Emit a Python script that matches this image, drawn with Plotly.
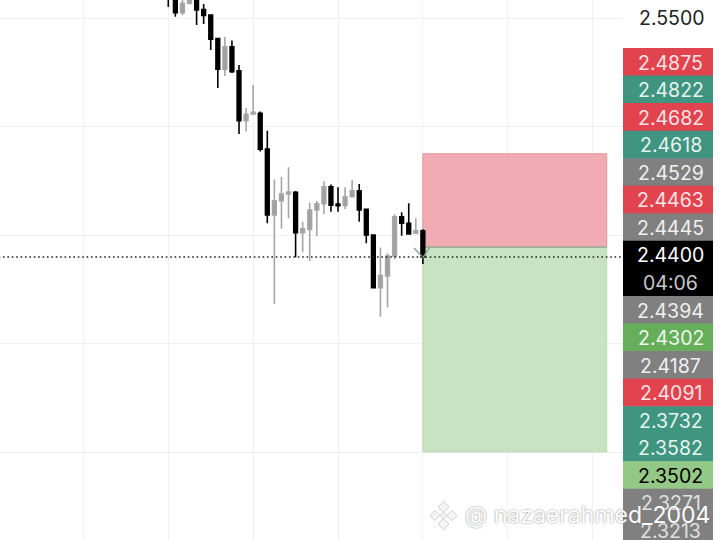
import plotly.graph_objects as go

W, H = 720, 540

# OHLC data (prices)
candle_index = list(range(1, 37))
opens = [2.5601, 2.5525, 2.5567, 2.5597, 2.5539, 2.5514, 2.5405, 2.5264, 2.5368, 2.5257, 2.5027, 2.5058,
         2.5061, 2.4897, 2.4593, 2.4659, 2.4690, 2.4698, 2.4512, 2.4527, 2.4616, 2.4645, 2.4723, 2.4644,
         2.4637, 2.4677, 2.4704, 2.4619, 2.4501, 2.4258, 2.4312, 2.4404, 2.4585, 2.4555, 2.4509, 2.4520]
highs = [2.5620, 2.5588, 2.5611, 2.5611, 2.5565, 2.5514, 2.5408, 2.5414, 2.5396, 2.5284, 2.5086, 2.5192,
         2.5069, 2.4981, 2.4757, 2.4769, 2.4813, 2.4704, 2.4562, 2.4650, 2.4658, 2.4750, 2.4734, 2.4721,
         2.4721, 2.4754, 2.4736, 2.4619, 2.4501, 2.4444, 2.4417, 2.4596, 2.4606, 2.4647, 2.4578, 2.4527]
lows = [2.5506, 2.5514, 2.5565, 2.5468, 2.5472, 2.5353, 2.5178, 2.5233, 2.5247, 2.4966, 2.4977, 2.5054,
        2.4885, 2.4555, 2.4183, 2.4530, 2.4578, 2.4398, 2.4421, 2.4381, 2.4496, 2.4598, 2.4608, 2.4608,
        2.4621, 2.4675, 2.4562, 2.4463, 2.4256, 2.4125, 2.4168, 2.4389, 2.4498, 2.4506, 2.4506, 2.4368]
closes = [2.5525, 2.5568, 2.5597, 2.5537, 2.5512, 2.5403, 2.5264, 2.5368, 2.5253, 2.5027, 2.5057, 2.5066,
          2.4896, 2.4593, 2.4659, 2.4690, 2.4699, 2.4512, 2.4529, 2.4616, 2.4645, 2.4723, 2.4638, 2.4636,
          2.4677, 2.4704, 2.4616, 2.4501, 2.4258, 2.4314, 2.4404, 2.4585, 2.4555, 2.4506, 2.4520, 2.4400]

first_wick_x = [0, 0]
first_wick_y = [2.5620, 2.5551]

# Position tool
pos_start, pos_end = 36, 62
stop_price, entry_price, target_price = 2.4875, 2.4445, 2.3502
last_price = 2.4400
arrow_x = [34.75, 36, 37]
arrow_y = [2.4441, 2.4397, 2.4445]

grid_x = [-12, 0, 12, 24, 36, 48, 60]
grid_y = [2.35, 2.40, 2.45, 2.50, 2.55]
grid_text = ["", "", "", "", "2.5500"]

# Right-hand price labels
RED, TEAL, GRAY, BLACK, GREEN, LGREEN = "#e1434f", "#3f9580", "#808080", "#000000", "#67ae5b", "#93c886"
label_text = ["2.4875", "2.4822", "2.4682", "2.4618", "2.4529", "2.4463", "2.4445", "2.4400<br>04:06",
              "2.4394", "2.4302", "2.4187", "2.4091", "2.3732", "2.3582", "2.3502", "2.3271<br>2.3213"]
label_color = [RED, TEAL, RED, TEAL, GRAY, RED, GRAY, BLACK, GRAY, GREEN, GRAY, RED, TEAL, TEAL, LGREEN, GRAY]
label_font = ["#fbe3e4", "#e6f4ef", "#fbe3e4", "#e6f4ef", "#f0f0f0", "#fbe3e4", "#f0f0f0", "#ffffff",
              "#f0f0f0", "#eef7ec", "#f0f0f0", "#fbe3e4", "#e6f4ef", "#e6f4ef", "#000000", "#e0e0e0"]
label_rows = [1, 1, 1, 1, 1, 1, 1, 2, 1, 1, 1, 1, 1, 1, 1, 2]

watermark = "@ nazaerahmed_2004"

FONT = "Inter"
PLOT_W = 623

fig = go.Figure()

fig.add_trace(go.Scatter(x=arrow_x, y=arrow_y, mode="lines", line=dict(color="#8f9f8f", width=1.4), hoverinfo="skip"))
fig.add_trace(go.Scatter(x=first_wick_x, y=first_wick_y, mode="lines", line=dict(color="#000", width=1.6), hoverinfo="skip"))
fig.add_trace(go.Candlestick(
    x=candle_index, open=opens, high=highs, low=lows, close=closes,
    increasing=dict(line=dict(color="#a6a6a6", width=1.6), fillcolor="#a0a0a0"),
    decreasing=dict(line=dict(color="#000000", width=1.6), fillcolor="#000000"),
    whiskerwidth=0,
))
fig.add_trace(go.Scatter(x=[-24, 65], y=[last_price, last_price], mode="lines",
                         line=dict(color="#222222", width=1.6, dash="1.6px,2.8px"), hoverinfo="skip"))

shapes = [
    dict(type="rect", xref="x", yref="y", x0=pos_start, x1=pos_end, y0=entry_price, y1=stop_price,
         fillcolor="#f0acb2", line=dict(color="#e8959c", width=1), layer="between"),
    dict(type="rect", xref="x", yref="y", x0=pos_start, x1=pos_end, y0=target_price, y1=entry_price,
         fillcolor="#c7e3c1", line=dict(color="#bcdcb5", width=1), layer="between"),
    dict(type="line", xref="x", yref="y", x0=pos_start, x1=pos_end, y0=entry_price, y1=entry_price,
         line=dict(color="#8fa58c", width=1.2), layer="between"),
]

annotations = []
ROW = 27.55
top = 48.0
for txt, col, fc, rows in zip(label_text, label_color, label_font, label_rows):
    h = ROW * rows
    shapes.append(dict(type="rect", xref="paper", yref="paper", x0=623 / W, x1=713 / W,
                       y0=1 - (top + h + 0.6) / H, y1=1 - top / H, fillcolor=col, line=dict(width=0), layer="above"))
    for k, part in enumerate(txt.split("<br>")):
        cy = top + ROW * (k + 0.5)
        f = fc
        if part == "04:06":
            f = "#c8c8c8"
        annotations.append(dict(xref="paper", yref="paper", x=670.5 / W, y=1 - (cy + 0.8) / H, text=part, showarrow=False,
                                font=dict(family=FONT, size=19.5, color=f), xanchor="center", yanchor="middle"))
    top += h

# Watermark logo: small diamonds around a centre
cx, cy = 443.5, 515.5
def diamond(x, y, r):
    pts = [(x, y - r), (x + r, y), (x, y + r), (x - r, y)]
    return "M" + " L".join(f"{a / W:.5f},{1 - b / H:.5f}" for a, b in pts) + " Z"
for dx, dy, r in [(0, -8.5, 5.5), (-8.5, 0, 5), (8.5, 0, 5), (0, 8.5, 5.5), (0, 0, 3.5)]:
    shapes.append(dict(type="path", xref="paper", yref="paper", path=diamond(cx + dx, cy + dy, r),
                       fillcolor="#f4f4f4", line=dict(color="#cfcfcf", width=1), layer="above"))

annotations.append(dict(xref="paper", yref="paper", x=463 / W, y=1 - 515 / H, text=watermark, showarrow=False,
                        xanchor="left", yanchor="middle",
                        font=dict(family=FONT, size=23, color="#ffffff", shadow="0px 0px 2px #777777")))

fig.update_layout(
    width=W, height=H, margin=dict(l=0, r=0, t=0, b=0), paper_bgcolor="white", plot_bgcolor="white",
    showlegend=False, boxgap=0.25, shapes=shapes, annotations=annotations,
    xaxis=dict(domain=[0, PLOT_W / W], range=[-23.8, 64.3], tickvals=grid_x, showticklabels=False, ticks="",
               showgrid=True, gridcolor="#f1f1f1", gridwidth=1, zeroline=False, showline=False,
               rangeslider=dict(visible=False), fixedrange=True),
    yaxis=dict(range=[2.30968, 2.55829], side="right", tickmode="array", tickvals=grid_y, ticktext=grid_text,
               showgrid=True, gridcolor="#f1f1f1", gridwidth=1, zeroline=False, showline=False, ticks="",
               ticklabelstandoff=15, tickfont=dict(family=FONT, size=19.5, color="#222222"), fixedrange=True),
    hovermode=False,
)
fig.write_html("out.html", config=dict(displayModeBar=False),
               post_script="document.body.style.margin='0';document.body.style.overflow='hidden';")
